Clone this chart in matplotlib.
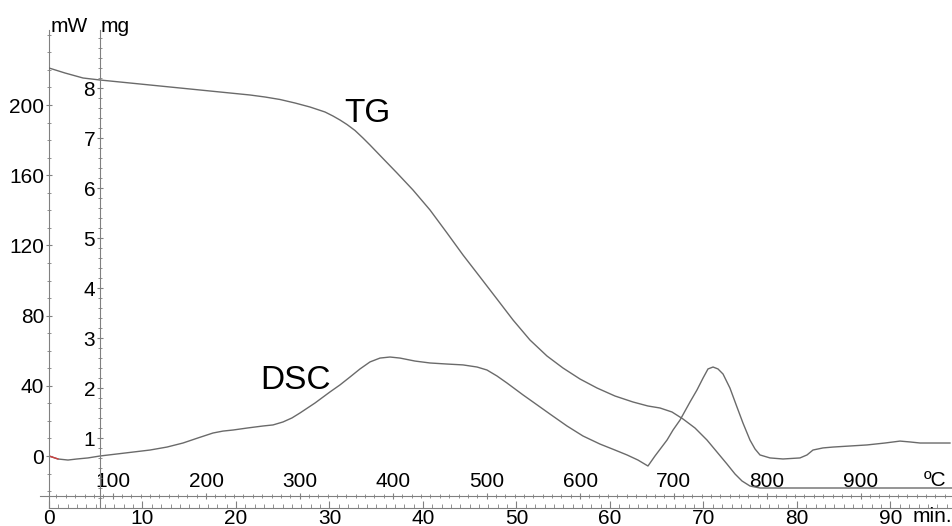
import matplotlib.pyplot as plt
import matplotlib.ticker as mticker

plt.rcParams['font.family'] = ['Liberation Sans', 'DejaVu Sans']

# TG curve: time (min) vs mass (mg)
tg_time = [0.0, 1.71, 3.64, 5.45, 10.80, 16.15, 21.50, 23.10, 24.71, 26.31, 27.91,
           29.52, 30.37, 31.12, 31.87, 32.73, 33.58, 34.33, 35.72, 37.22, 38.93,
           40.75, 42.57, 44.28, 46.10, 47.91, 49.63, 51.44, 53.26, 54.97, 56.79,
           58.61, 60.53, 62.46, 64.06, 65.35, 66.63, 67.81, 69.09, 70.37, 71.44,
           72.51, 73.37, 74.12, 74.97, 76.04, 80.32, 96.68]
tg_mg = [8.40, 8.30, 8.20, 8.16, 8.06, 7.96, 7.86, 7.82, 7.77, 7.70, 7.62,
         7.52, 7.44, 7.36, 7.27, 7.15, 7.00, 6.86, 6.59, 6.30, 5.96,
         5.56, 5.10, 4.66, 4.22, 3.78, 3.36, 2.96, 2.64, 2.40, 2.18,
         2.00, 1.84, 1.72, 1.64, 1.60, 1.52, 1.38, 1.20, 0.96, 0.72,
         0.48, 0.28, 0.14, 0.04, 0.0, 0.0, 0.0]

# DSC curve: time (min) vs heat flow (mW)
dsc_time = [0.0, 0.96, 2.03, 2.99, 4.17, 5.45, 8.13, 10.80, 12.62, 14.33, 15.94,
            17.54, 18.61, 19.68, 21.28, 22.89, 23.96, 25.03, 25.99, 26.84, 28.45,
            30.05, 31.12, 32.19, 33.26, 34.33, 35.40, 36.47, 37.54, 39.14, 40.75,
            42.57, 44.28, 45.78, 46.84, 47.91, 48.98, 49.84, 50.70, 51.76, 53.58,
            55.40, 57.11, 58.93, 60.53, 61.82, 62.99, 64.06, 64.81, 66.10, 66.74,
            67.49, 68.56, 69.30, 69.95, 70.48, 71.02, 71.55, 72.09, 72.83, 73.58,
            74.22, 74.97, 75.51, 76.04, 77.11, 78.50, 80.32, 81.07, 81.71, 82.78,
            83.85, 85.67, 87.49, 89.41, 91.02, 92.09, 93.16, 94.76, 96.36]
dsc_mw = [0.0, -1.7, -2.3, -1.7, -1.1, 0.0, 1.7, 3.4, 5.1, 7.4, 10.3,
          13.1, 14.2, 14.8, 16.0, 17.1, 17.7, 19.4, 21.7, 24.5, 30.2,
          36.5, 40.5, 45.0, 49.6, 53.6, 55.8, 56.4, 55.8, 54.1, 53.0,
          52.4, 51.9, 50.7, 49.0, 45.6, 41.6, 38.2, 34.8, 30.8, 23.9,
          17.1, 11.4, 6.8, 3.4, 0.6, -2.3, -5.7, 0.0, 9.1, 14.8,
          20.5, 30.8, 37.6, 44.4, 49.6, 50.7, 49.6, 46.7, 38.7, 27.9,
          18.8, 9.1, 4.0, 0.6, -1.1, -1.7, -1.1, 0.6, 3.4, 4.6,
          5.1, 5.7, 6.3, 7.4, 8.5, 8.0, 7.4, 7.4, 7.4]

mw_ticks = [0, 40, 80, 120, 160, 200]
mg_ticks = [1, 2, 3, 4, 5, 6, 7, 8]
min_ticks = [0, 10, 20, 30, 40, 50, 60, 70, 80, 90]
temp_ticks = [100, 200, 300, 400, 500, 600, 700, 800, 900]

# heating: about 10 K/min starting near 32 C
T0, rate = 32.0, 10.0

W, H = 953, 526
line_col = '#6a6a6a'
axis_col = '#808080'
fs = 15

fig = plt.figure(figsize=(W / 100, H / 100), dpi=100)
ax = fig.add_axes([49 / W, (H - 508) / H, (W - 49) / W, (508 - 30) / H])

ax.set_xlim(0, (W - 49) / 9.35)
ax.set_ylim((456 - 508) / 1.755, (456 - 30) / 1.755)

for s in ['top', 'right']:
    ax.spines[s].set_visible(False)
ax.spines['left'].set_color(axis_col)
ax.spines['bottom'].set_color(axis_col)

ax.set_yticks(mw_ticks)
ax.yaxis.set_minor_locator(mticker.MultipleLocator(10))
ax.tick_params(axis='y', which='major', direction='inout', length=5, color=axis_col,
               labelsize=fs, pad=1)
ax.tick_params(axis='y', which='minor', direction='inout', length=3, color=axis_col)

ax.set_xticks(min_ticks)
ax.xaxis.set_minor_locator(mticker.MultipleLocator(1))
ax.tick_params(axis='x', which='major', direction='in', length=5, color=axis_col,
               labelsize=fs, pad=0.5)
ax.tick_params(axis='x', which='minor', direction='in', length=3, color=axis_col)

ax.plot(dsc_time, dsc_mw, color=line_col, lw=1.0)
ax.plot(dsc_time[:2], dsc_mw[:2], color='#d04040', lw=1.0)

# mg axis
ax2 = ax.twinx()
ax2.set_ylim(8 - (508 - 88) / 50, 8 + (88 - 30) / 50)
for s in ['top', 'right', 'bottom']:
    ax2.spines[s].set_visible(False)
ax2.spines['left'].set_visible(True)
ax2.spines['left'].set_color(axis_col)
ax2.spines['left'].set_position(('data', (100 - 49) / 9.35))
ax2.yaxis.tick_left()
ax2.set_yticks(mg_ticks)
ax2.yaxis.set_minor_locator(mticker.MultipleLocator(0.2))
ax2.tick_params(axis='y', which='major', direction='inout', length=5, color=axis_col,
                labelsize=fs, pad=1)
ax2.tick_params(axis='y', which='minor', direction='inout', length=3, color=axis_col)
ax2.plot(tg_time, tg_mg, color=line_col, lw=1.0)

# temperature axis
sec = ax.secondary_xaxis((508 - 496) / (508 - 30),
                         functions=(lambda t: T0 + rate * t, lambda T: (T - T0) / rate))
sec.set_alignment('top')
sec.spines['top'].set_color(axis_col)
sec.set_xticks(temp_ticks)
sec.xaxis.set_minor_locator(mticker.MultipleLocator(10))
sec.tick_params(axis='x', which='major', direction='inout', length=5, color=axis_col,
                labelsize=fs, pad=1)
sec.tick_params(axis='x', which='minor', direction='inout', length=3, color=axis_col)
ax.plot([-9 / (W - 49), 0], [(508 - 496) / (508 - 30)] * 2, color=axis_col, lw=0.8,
        transform=ax.transAxes, clip_on=False)

# labels
ax2.text(34.0, 7.5, 'TG', fontsize=24, ha='center', va='center')
ax.text(26.4, 43.3, 'DSC', fontsize=24, ha='center', va='center')
fig.text(51 / W, 1 - 26 / H, 'mW', fontsize=fs, ha='left', va='center')
fig.text(101 / W, 1 - 26 / H, 'mg', fontsize=fs, ha='left', va='center')
fig.text(935 / W, 1 - 481 / H, 'ºC', fontsize=fs, ha='center', va='center')
fig.text(932 / W, 1 - 517 / H, 'min.', fontsize=fs, ha='center', va='center')

plt.savefig('out.png', dpi=100)
